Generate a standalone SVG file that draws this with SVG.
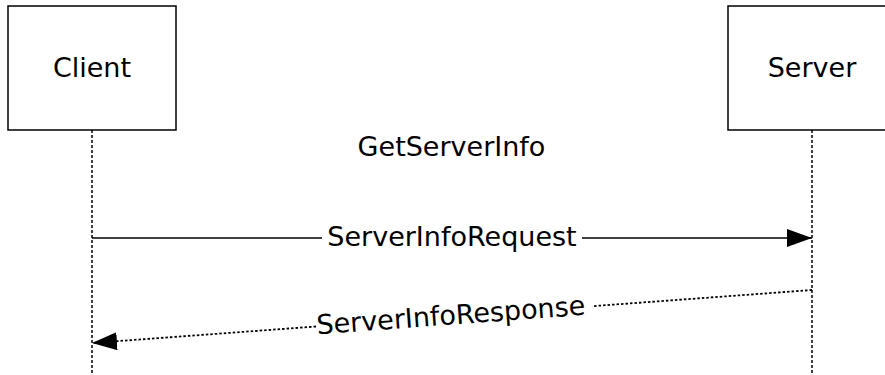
<svg xmlns="http://www.w3.org/2000/svg" width="885" height="375" viewBox="0 0 885 375">
<style>
.box{fill:#fff;stroke:#000;stroke-width:1.5}
.life{stroke:#000;stroke-width:1.5;stroke-dasharray:3 2;fill:none}
.msg{stroke:#000;stroke-width:1.5;fill:none}
.dot{stroke:#000;stroke-width:1.8;stroke-dasharray:2.5 2;fill:none}
text{font-family:"DejaVu Sans",Verdana,sans-serif;font-size:27px;fill:#000;text-anchor:middle}
</style>
<defs>
<marker id="ah" markerWidth="25" markerHeight="18" refX="25" refY="9" orient="auto" markerUnits="userSpaceOnUse">
<path d="M0,0 L25,9 L0,18 Z" fill="#000"/>
</marker>
</defs>
<rect width="885" height="375" fill="#fff"/>
<g id="client">
<rect class="box" x="8" y="6" width="168" height="124"/>
<text x="92" y="77">Client</text>
</g>
<g id="server">
<rect class="box" x="728" y="6" width="168" height="124"/>
<text x="812" y="77">Server</text>
</g>
<g id="title">
<text x="451.5" y="156">GetServerInfo</text>
</g>
<g id="connectors">
<line class="life" x1="92" y1="130" x2="92" y2="375"/>
<line class="life" x1="812" y1="130" x2="812" y2="375"/>
<line class="msg" x1="92" y1="238" x2="322" y2="238"/>
<line class="msg" x1="582" y1="238" x2="812" y2="238" marker-end="url(#ah)"/>
<text x="452" y="246">ServerInfoRequest</text>
<line class="dot" x1="812" y1="290" x2="592" y2="306.2"/>
<line class="dot" x1="316" y1="326.5" x2="92" y2="343" marker-end="url(#ah)"/>
<text x="451.5" y="324.5" transform="rotate(-4.2 451.5 324.5)">ServerInfoResponse</text>
</g>
</svg>
